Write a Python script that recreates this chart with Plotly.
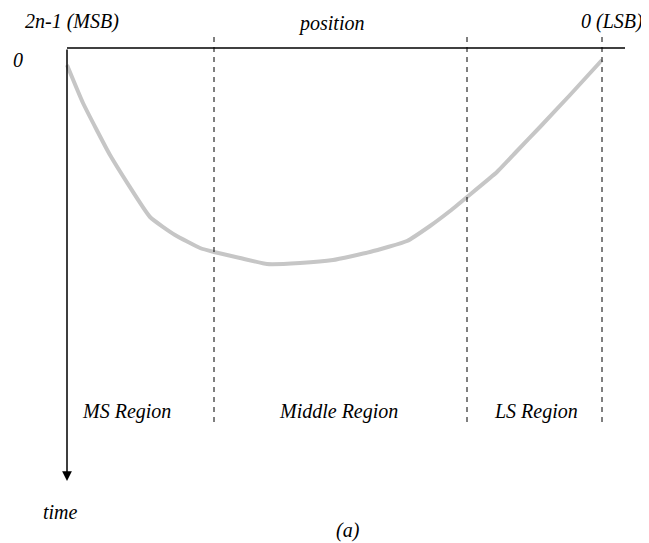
import plotly.graph_objects as go

# curve: (position, time) in drawing units (x right, y down)
curve_pos = [67, 83, 110, 150, 175, 200, 214, 240, 267, 300, 333, 370, 407, 430, 450, 467, 497, 517, 540, 570, 602]
curve_time = [65, 103, 155, 217, 235, 248, 252, 258, 264, 263, 260, 252, 241, 226, 211, 197, 172, 151, 127, 95, 60]

region_bounds = [214, 467, 602]
region_labels = ["MS Region", "Middle Region", "LS Region"]
region_label_x = [126, 338, 536]

axis_origin = (67, 48)
axis_x_end = 625
axis_y_end = 481

FONT = "Liberation Serif"
OFF = 8  # page margin offset

fig = go.Figure()
fig.add_trace(go.Scatter(x=curve_pos, y=curve_time, mode="lines",
                         line=dict(color="#c6c6c6", width=4, shape="spline", smoothing=0.4),
                         hoverinfo="skip", showlegend=False))

shapes = []
shapes.append(dict(type="line", xref="x", yref="y", x0=axis_origin[0], y0=axis_origin[1],
                   x1=axis_x_end, y1=axis_origin[1], line=dict(color="black", width=1.5)))
for b in region_bounds:
    shapes.append(dict(type="line", xref="x", yref="y", x0=b, y0=37, x1=b, y1=422,
                       line=dict(color="black", width=1, dash="5px,5px")))
fig.update_layout(shapes=shapes)

annotations = []
annotations.append(dict(x=axis_origin[0], y=axis_y_end, ax=axis_origin[0], ay=axis_origin[1],
                        xref="x", yref="y", axref="x", ayref="y", text="", showarrow=True,
                        arrowhead=2, arrowsize=1.3, arrowwidth=1.5, arrowcolor="black"))

def txt(x, y, s, size=20):
    annotations.append(dict(x=x, y=y, xref="x", yref="y", text="<i>" + s + "</i>",
                            showarrow=False, borderpad=0, borderwidth=0,
                            font=dict(family=FONT, size=size, color="black")))

txt(72, 21, "2n-1 (MSB)")
txt(331, 23, "position")
txt(612, 21, "0 (LSB)")
txt(18, 60, "0")
txt(60, 512, "time")
txt(348, 530, "(a)")
for lx, lab in zip(region_label_x, region_labels):
    txt(lx, 411, lab)

fig.update_layout(annotations=annotations)
fig.update_layout(width=649, height=543, margin=dict(l=0, r=0, t=0, b=0),
                  paper_bgcolor="white", plot_bgcolor="white",
                  xaxis=dict(range=[OFF, 649 + OFF], visible=False, fixedrange=True),
                  yaxis=dict(range=[543 + OFF, OFF], visible=False, fixedrange=True))

fig.write_html("out.html")
